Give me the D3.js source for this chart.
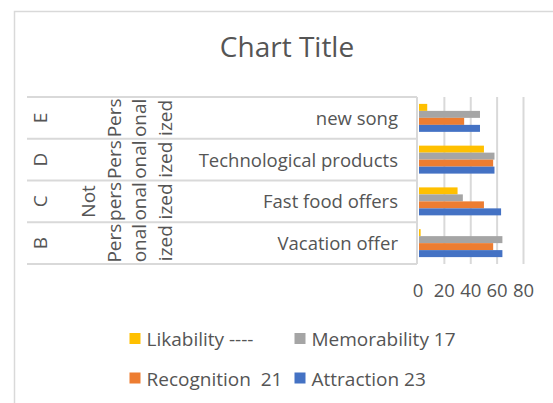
<!DOCTYPE html>
<html>
<head>
<meta charset="utf-8">
<script src="https://cdn.jsdelivr.net/npm/d3@7/dist/d3.min.js"></script>
<style>
  html, body { margin: 0; padding: 0; background: #fff; }
  svg { display: block; }
  text { font-family: "Open Sans", "Noto Sans", sans-serif; fill: #555555; }
</style>
</head>
<body>
<script>
// ---- data ----
const categories = ["new song", "Technological products", "Fast food offers", "Vacation offer"]; // top to bottom
const groupLetters = ["E", "D", "C", "B"];
const groupLines = [["Pers", "onal", "ized"], ["Pers", "onal", "ized"], ["Not", "pers", "onal", "ized"], ["Pers", "onal", "ized"]];
const seriesNames = ["Likability ----", "Memorability 17", "Recognition  21", "Attraction 23"];
const seriesColors = ["#FFC000", "#A5A5A5", "#ED7D31", "#4472C4"];
const likability   = [7, 50, 30, 2];
const memorability = [47, 58, 34, 64];
const recognition  = [35, 57, 50, 57];
const attraction   = [47, 58, 63, 64];
const tickValues = [0, 20, 40, 60, 80];
const titleText = "Chart Title";

const seriesValues = [likability, memorability, recognition, attraction];

const W = 553, H = 403;
const svg = d3.select("body").append("svg").attr("width", W).attr("height", H);

// border (chart area, cropped)
svg.append("path").attr("d", `M14.5,${H} V11.5 H${W}`).attr("fill", "none")
  .attr("stroke", "#d9d9d9").attr("stroke-width", 1.5);

// title
svg.append("text").attr("x", 287).attr("y", 57).attr("text-anchor", "middle")
  .style("font-size", "28px").text(titleText);

const x = d3.scaleLinear().domain([0, 80]).range([418, 523.5]);
const y = d3.scaleBand().domain(categories).range([97, 264]).padding(0);
const inner = d3.scaleBand().domain(d3.range(seriesNames.length))
  .range([0, y.bandwidth() * 0.67]);
const innerOff = (y.bandwidth() - y.bandwidth() * 0.67) / 2;

// gridlines
svg.append("g").selectAll("line").data(tickValues.slice(1)).join("line")
  .attr("x1", d => x(d)).attr("x2", d => x(d))
  .attr("y1", y.range()[0]).attr("y2", y.range()[1])
  .attr("stroke", "#d9d9d9").attr("stroke-width", 2);

// horizontal separators
const bounds = categories.map(c => y(c)).concat([y.range()[1]]);
svg.append("g").selectAll("line").data(bounds).join("line")
  .attr("x1", 27).attr("x2", x(0) - 1)
  .attr("y1", d => d).attr("y2", d => d)
  .attr("stroke", "#d9d9d9").attr("stroke-width", 2);

// vertical axis line
svg.append("line").attr("x1", x(0) - 1).attr("x2", x(0) - 1)
  .attr("y1", y.range()[0]).attr("y2", y.range()[1])
  .attr("stroke", "#d9d9d9").attr("stroke-width", 2);

// bars
seriesValues.forEach((vals, si) => {
  svg.append("g").selectAll("rect").data(vals).join("rect")
    .attr("x", x(0) + 1)
    .attr("y", (d, i) => y(categories[i]) + innerOff + inner(si))
    .attr("width", d => Math.max(0, x(d) - x(0) - 1))
    .attr("height", inner.bandwidth())
    .attr("fill", seriesColors[si]);
});

// category labels
svg.append("g").selectAll("text").data(categories).join("text")
  .attr("x", 398).attr("y", d => y(d) + y.bandwidth() / 2 + 7)
  .attr("text-anchor", "end").style("font-size", "18.5px").text(d => d);

// outer letters (rotated)
svg.append("g").selectAll("text").data(groupLetters).join("text")
  .attr("transform", (d, i) => `translate(47,${y(categories[i]) + y.bandwidth() / 2}) rotate(-90)`)
  .attr("text-anchor", "middle").style("font-size", "19px").text(d => d);

// personalization labels (rotated, wrapped)
const lineBase = [95, 120.5, 146, 171.5];
groupLines.forEach((lines, i) => {
  const yc = y(categories[i]) + y.bandwidth() / 2;
  const start = lineBase.length - lines.length;
  svg.append("g").selectAll("text").data(lines).join("text")
    .attr("transform", (d, j) => `translate(${lineBase[start + j]},${yc}) rotate(-90)`)
    .attr("text-anchor", "middle").style("font-size", "19px").text(d => d);
});

// x tick labels
svg.append("g").selectAll("text").data(tickValues).join("text")
  .attr("x", d => x(d)).attr("y", 297).attr("text-anchor", "middle")
  .style("font-size", "18.5px").text(d => d);

// legend
const legPos = [[129.5, 333], [294.5, 333], [129.5, 372.5], [294.5, 372.5]];
const leg = svg.append("g").selectAll("g").data(seriesNames).join("g")
  .attr("transform", (d, i) => `translate(${legPos[i][0]},${legPos[i][1]})`);
leg.append("rect").attr("width", 11).attr("height", 11).attr("fill", (d, i) => seriesColors[i]);
leg.append("text").attr("x", 17).attr("y", 13).style("font-size", "19px")
  .style("white-space", "pre").attr("xml:space", "preserve").text(d => d);
</script>
</body>
</html>
